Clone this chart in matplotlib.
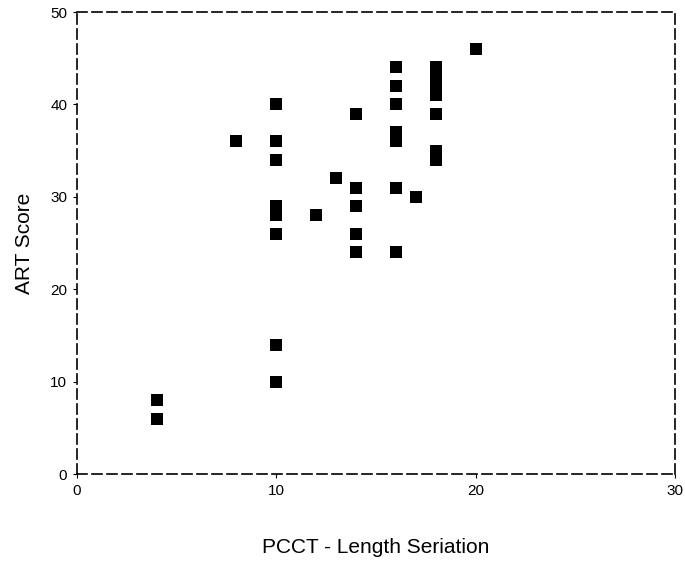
import matplotlib
matplotlib.use("Agg")
import matplotlib.pyplot as plt

# Data
pcct_x = [4, 4, 8,
          10, 10, 10, 10, 10, 10, 10, 10,
          12, 13,
          14, 14, 14, 14, 14,
          16, 16, 16, 16, 16, 16, 16,
          17,
          18, 18, 18, 18, 18, 18, 18,
          20]
art_y = [8, 6, 36,
         40, 36, 34, 29, 28, 26, 14, 10,
         28, 32,
         39, 31, 29, 26, 24,
         44, 42, 40, 37, 36, 31, 24,
         30,
         44, 43, 42, 41, 39, 35, 34,
         46]

x_ticks = [0, 10, 20, 30]
y_ticks = [0, 10, 20, 30, 40, 50]

plt.rcParams['font.family'] = ['Liberation Sans', 'DejaVu Sans']

fig = plt.figure(figsize=(6.85, 5.62), dpi=100)
ax = fig.add_axes([77 / 685, 88 / 562, 598 / 685, 462 / 562])

ax.scatter(pcct_x, art_y, marker="s", s=85, c="black", linewidths=0)

ax.set_xlim(0, 30)
ax.set_ylim(0, 50)
ax.set_xticks(x_ticks)
ax.set_yticks(y_ticks)
ax.tick_params(direction="out", length=3, width=0.8, labelsize=11, pad=4)

for side in ["top", "bottom", "left", "right"]:
    ax.spines[side].set_linestyle((0, (6, 3)))
    ax.spines[side].set_linewidth(1.2)
    ax.spines[side].set_color("black")

ax.set_xlabel("PCCT - Length Seriation", fontsize=15, labelpad=29)
ax.set_ylabel("ART Score", fontsize=15, labelpad=12)

fig.savefig("out.png", dpi=100)
